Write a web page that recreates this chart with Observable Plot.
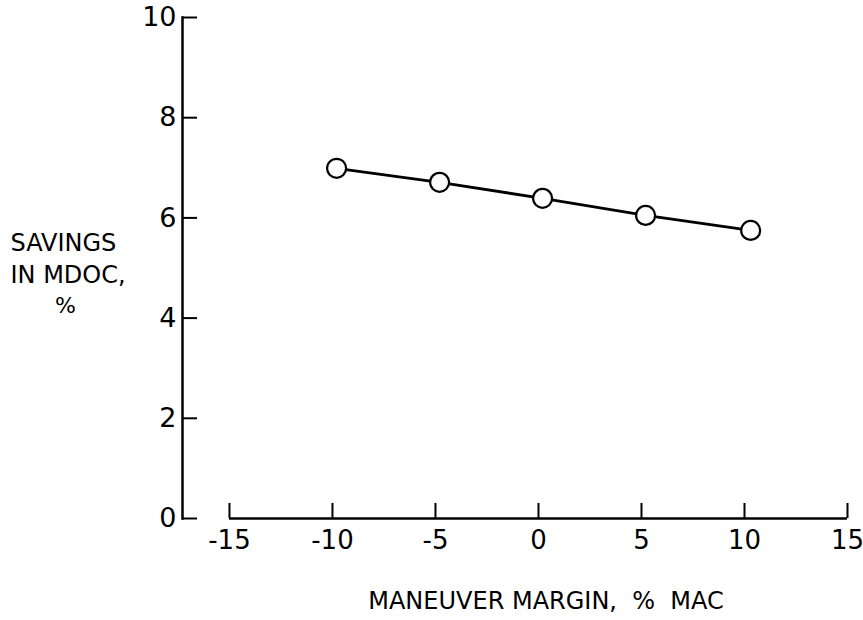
<!DOCTYPE html>
<html><head><meta charset="utf-8">
<script src="https://cdn.jsdelivr.net/npm/d3@7"></script>
<script src="https://cdn.jsdelivr.net/npm/@observablehq/plot@0.6"></script>
<style>body{margin:0;background:#fff}</style>
</head><body><div id="chart"></div>
<script>
const margins = [-9.8, -4.8, 0.2, 5.2, 10.3];
const savings = [6.99, 6.71, 6.39, 6.05, 5.75];
const xTicks = [-15, -10, -5, 0, 5, 10, 15];
const yTicks = [0, 2, 4, 6, 8, 10];
const xLabel = "MANEUVER MARGIN,\u00a0\u00a0%\u00a0\u00a0MAC";
const yLabelLines = ["SAVINGS", "IN MDOC,"];
const yLabelUnit = "%";

const data = margins.map((m, i) => ({m, s: savings[i]}));
const font = '"DejaVu Sans", "Liberation Sans", sans-serif';
const fmt = d => (d < 0 ? "-" + Math.abs(d) : String(d));

const chart = Plot.plot({
  width: 863,
  height: 620,
  marginLeft: 182,
  marginRight: 16,
  marginTop: 17,
  marginBottom: 102,
  x: {domain: [-17.28, 15], axis: null},
  y: {domain: [0, 10], axis: null},
  style: {fontFamily: font, background: "white", color: "#000"},
  marks: [
    Plot.frame({anchor: "left", stroke: "#000", strokeWidth: 2.5}),
    Plot.axisY(yTicks, {tickSize: 15, dx: 15, tickFormat: () => "", label: null, strokeWidth: 2}),
    Plot.axisY(yTicks, {tickSize: 0, tickPadding: 6, tickFormat: fmt, label: null, fontSize: 27, fill: "#000"}),
    Plot.ruleY([0], {x1: d3.min(xTicks), x2: d3.max(xTicks), stroke: "#000", strokeWidth: 2.5}),
    Plot.axisX(xTicks, {tickSize: 15, dy: -15, tickFormat: () => "", label: null, strokeWidth: 2}),
    Plot.axisX(xTicks, {tickSize: 0, tickPadding: 12, tickFormat: fmt, label: null, fontSize: 26, fill: "#000"}),
    Plot.line(data, {x: "m", y: "s", stroke: "#000", strokeWidth: 2.8}),
    Plot.dot(data, {x: "m", y: "s", r: 9.5, fill: "white", stroke: "#000", strokeWidth: 2.2}),
    Plot.text([xLabel], {frameAnchor: "bottom", dx: 31, dy: 90, lineAnchor: "bottom", fontSize: 24, fill: "#000"}),
    Plot.text([yLabelLines.join("\n")], {frameAnchor: "top-left", textAnchor: "start", lineAnchor: "bottom", dx: -172, dy: 265, lineHeight: 1.33, fontSize: 24, fill: "#000"}),
    Plot.text([yLabelUnit], {frameAnchor: "top-left", textAnchor: "middle", lineAnchor: "bottom", dx: -117, dy: 295, fontSize: 22, fill: "#000"})
  ]
});
document.getElementById("chart").appendChild(chart);
</script>
</body></html>
